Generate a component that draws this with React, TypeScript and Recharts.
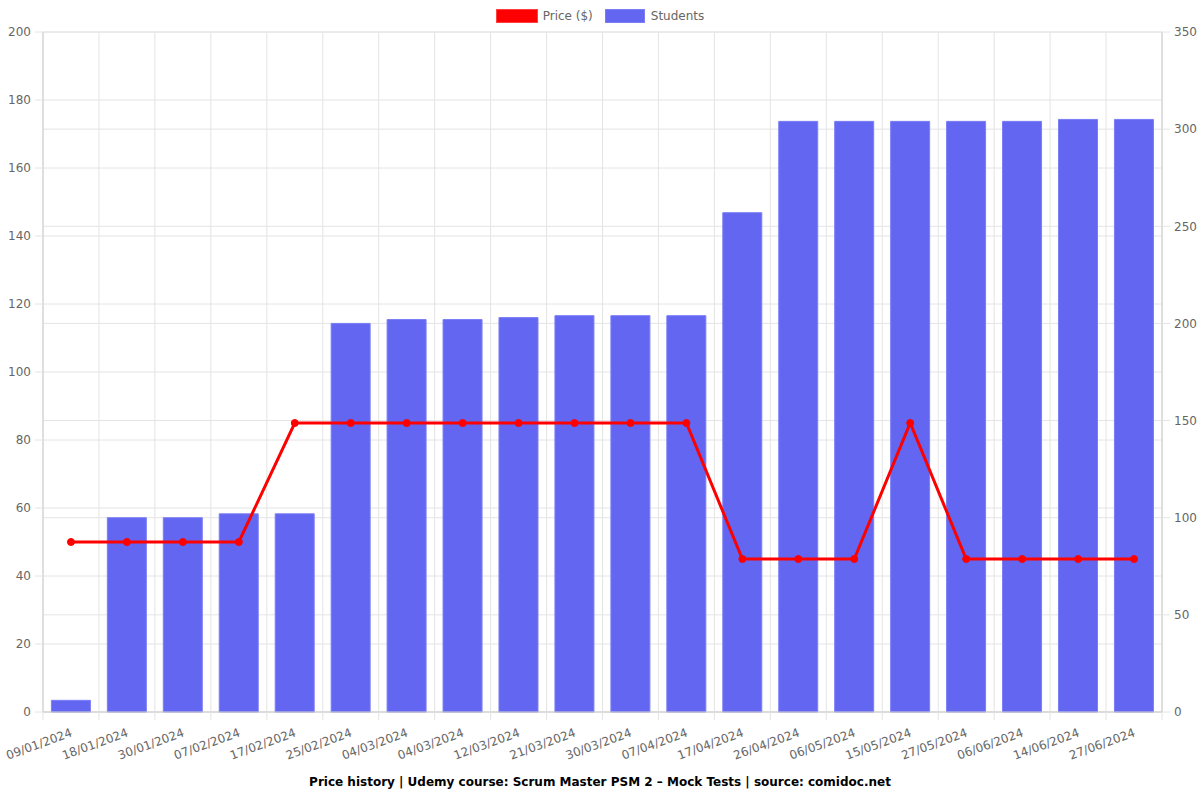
import React from 'react';
import { ComposedChart, Bar, Line, XAxis, YAxis, CartesianGrid, Legend } from 'recharts';

const dates = [
  '09/01/2024', '18/01/2024', '30/01/2024', '07/02/2024', '17/02/2024',
  '25/02/2024', '04/03/2024', '04/03/2024', '12/03/2024', '21/03/2024',
  '30/03/2024', '07/04/2024', '17/04/2024', '26/04/2024', '06/05/2024',
  '15/05/2024', '27/05/2024', '06/06/2024', '14/06/2024', '27/06/2024',
];
const prices = [50, 50, 50, 50, 85, 85, 85, 85, 85, 85, 85, 85, 45, 45, 45, 85, 45, 45, 45, 45];
const students = [6, 100, 100, 102, 102, 200, 202, 202, 203, 204, 204, 204, 257, 304, 304, 304, 304, 304, 305, 305];
const priceTicks = [0, 20, 40, 60, 80, 100, 120, 140, 160, 180, 200];
const studentTicks = [0, 50, 100, 150, 200, 250, 300, 350];

const data = dates.map((d, i) => ({ idx: i, date: d, price: prices[i], students: students[i] }));

const FONT = '"DejaVu Sans", sans-serif';
const TXT = '#666';
const AXIS = '#ccc';
const GRID = '#e4e4e4';

const DateTick = (props: any) => {
  const { x, y, payload, index } = props;
  const half = payload.offset || 0;
  const label = dates[payload.value];
  return (
    <g>
      <line x1={x - half} y1={y - 8} x2={x - half} y2={y} stroke={GRID} />
      {index === dates.length - 1 && (
        <line x1={x + half} y1={y - 8} x2={x + half} y2={y} stroke={GRID} />
      )}
      <text
        x={x + 2}
        y={y + 16}
        textAnchor="end"
        fill={TXT}
        fontSize={12}
        fontFamily={FONT}
        transform={`rotate(-20, ${x + 2}, ${y + 16})`}
      >
        {label}
      </text>
    </g>
  );
};

const LegendBox = () => (
  <div style={{ height: 32, display: 'flex', justifyContent: 'center', alignItems: 'flex-start', fontFamily: FONT, fontSize: 12, color: TXT }}>
    <div style={{ display: 'flex', alignItems: 'center', marginTop: 9 }}>
      <span style={{ width: 40, height: 12, background: '#ff0000', border: '1px solid #ff4040', display: 'inline-block', marginRight: 5 }} />
      <span style={{ marginRight: 12 }}>Price ($)</span>
      <span style={{ width: 38, height: 12, background: '#6366f1', border: '1px solid #7b7ef5', display: 'inline-block', marginRight: 6 }} />
      <span>Students</span>
    </div>
  </div>
);

export default function App() {
  return (
    <div style={{ position: 'absolute', left: 0, top: 0, width: 1200, height: 800, background: '#fff' }}>
      <ComposedChart width={1200} height={800} data={data} margin={{ top: 0, right: 0, bottom: 0, left: 0 }} barCategoryGap="15%">
        <CartesianGrid
          yAxisId="left"
          stroke={GRID}
          vertical={true}
          horizontal={true}
          verticalCoordinatesGenerator={({ offset }: any) =>
            dates.map((_, i) => offset.left + (i * offset.width) / dates.length).concat([offset.left + offset.width])
          }
        />
        <CartesianGrid yAxisId="right" stroke={GRID} vertical={false} horizontal={true} />
        <Legend verticalAlign="top" content={<LegendBox />} />
        <XAxis
          dataKey="idx"
          type="category"
          height={88}
          interval={0}
          tick={<DateTick />}
          tickLine={false}
          axisLine={{ stroke: AXIS }}
        />
        <YAxis
          yAxisId="left"
          orientation="left"
          width={43}
          domain={[0, 200]}
          ticks={priceTicks}
          interval={0}
          tickSize={8}
          tickMargin={4}
          tick={{ fill: TXT, fontSize: 12, fontFamily: FONT }}
          tickLine={{ stroke: GRID }}
          axisLine={{ stroke: AXIS }}
        />
        <YAxis
          yAxisId="right"
          orientation="right"
          width={38}
          domain={[0, 350]}
          ticks={studentTicks}
          interval={0}
          tickSize={8}
          tickMargin={4}
          tick={{ fill: TXT, fontSize: 12, fontFamily: FONT }}
          tickLine={{ stroke: GRID }}
          axisLine={{ stroke: AXIS }}
        />
        <Bar yAxisId="right" dataKey="students" name="Students" fill="#6366f1" stroke="#7b7ef5" strokeWidth={1} isAnimationActive={false} />
        <Line
          yAxisId="left"
          type="linear"
          dataKey="price"
          name="Price ($)"
          stroke="#ff0000"
          strokeWidth={3}
          dot={{ r: 3.5, fill: '#ff0000', stroke: '#ff0000', strokeWidth: 1 }}
          isAnimationActive={false}
        />
      </ComposedChart>
      <div
        style={{
          position: 'absolute',
          left: 0,
          top: 775,
          width: 1200,
          textAlign: 'center',
          fontFamily: FONT,
          fontSize: 12,
          fontWeight: 'bold',
          color: '#000',
        }}
      >
        Price history | Udemy course: Scrum Master PSM 2 – Mock Tests | source: comidoc.net
      </div>
    </div>
  );
}
